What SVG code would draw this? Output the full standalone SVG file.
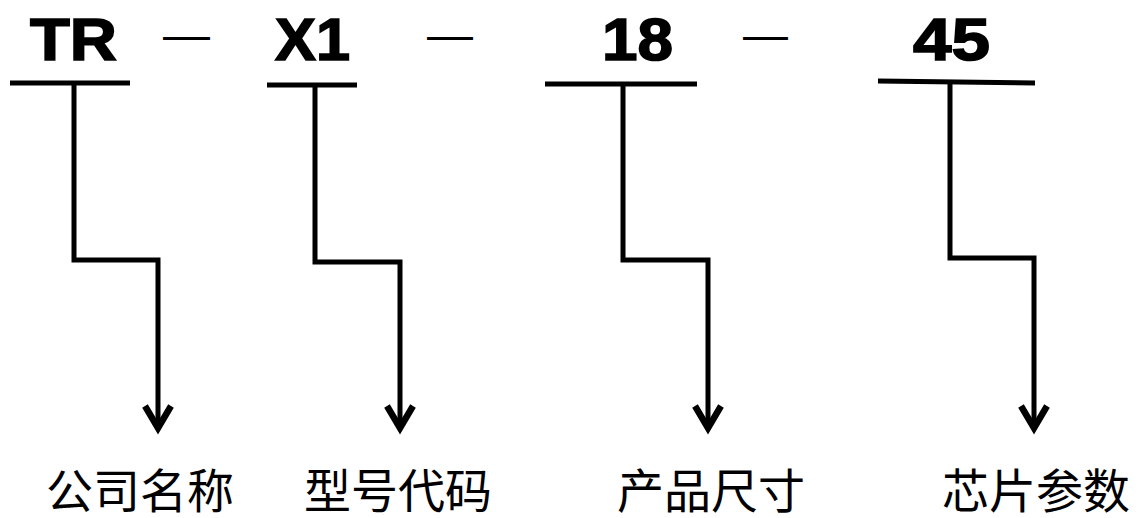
<svg xmlns="http://www.w3.org/2000/svg" width="1139" height="518" viewBox="0 0 1139 518">
<style>
.code{font-family:"Liberation Sans",Arial,sans-serif;font-weight:bold;font-size:60px;fill:#000;stroke:#000;stroke-width:1.6px}
.dash{font-family:"Liberation Sans",Arial,sans-serif;font-size:47px;fill:#000}
.lbl{font-family:"Noto Sans CJK SC","Liberation Sans",sans-serif;font-size:47px;fill:#000}
.bar{stroke:#000;stroke-width:5;fill:none}
.wire{stroke:#000;stroke-width:5;fill:none;stroke-linejoin:miter}
.head{stroke:#000;stroke-width:6.5;fill:none;stroke-linejoin:miter;stroke-linecap:butt}
</style>
<rect width="1139" height="518" fill="#fff"/>
<g id="node-TR">
<text class="code" x="30" y="60" textLength="87" lengthAdjust="spacingAndGlyphs">TR</text>
<line class="bar" x1="10" y1="83" x2="130" y2="83"/>
</g>
<g id="node-X1">
<text class="code" x="275" y="60" textLength="75" lengthAdjust="spacingAndGlyphs">X1</text>
<line class="bar" x1="267" y1="85" x2="357" y2="85"/>
</g>
<g id="node-18">
<text class="code" x="602" y="60" textLength="71" lengthAdjust="spacingAndGlyphs">18</text>
<line class="bar" x1="545" y1="84" x2="697" y2="84"/>
</g>
<g id="node-45">
<text class="code" x="913" y="60" textLength="77" lengthAdjust="spacingAndGlyphs">45</text>
<line class="bar" x1="878" y1="81" x2="1035" y2="83"/>
</g>
<g id="separators">
<text class="dash" x="163" y="50" textLength="47" lengthAdjust="spacingAndGlyphs">—</text>
<text class="dash" x="427" y="50" textLength="46" lengthAdjust="spacingAndGlyphs">—</text>
<text class="dash" x="743" y="50" textLength="45" lengthAdjust="spacingAndGlyphs">—</text>
</g>
<g id="connectors">
<path class="wire" d="M74 83 V260 H158 V428"/>
<path class="head" d="M145 406 L158 428 L171 406"/>
<path class="wire" d="M315 85 V262 H400 V428"/>
<path class="head" d="M387 406 L400 428 L413 406"/>
<path class="wire" d="M623 84 V260 H708 V428"/>
<path class="head" d="M695 406 L708 428 L721 406"/>
<path class="wire" d="M950 82 V258 H1034 V428"/>
<path class="head" d="M1021 406 L1034 428 L1047 406"/>
</g>
<g id="label-company"><text class="lbl" x="46" y="508">公司名称</text></g>
<g id="label-model"><text class="lbl" x="304" y="508">型号代码</text></g>
<g id="label-size"><text class="lbl" x="617" y="508">产品尺寸</text></g>
<g id="label-chip"><text class="lbl" x="942" y="508">芯片参数</text></g>
</svg>
